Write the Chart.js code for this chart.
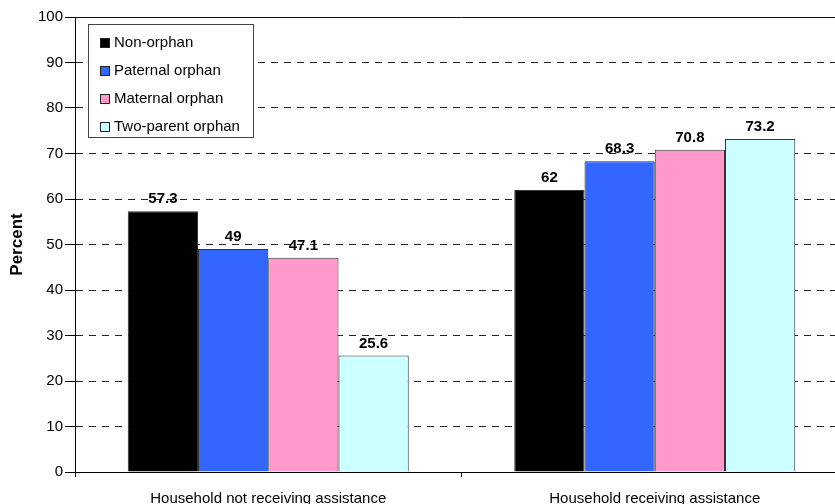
<!DOCTYPE html>
<html>
<head>
<meta charset="utf-8">
<script src="https://cdn.jsdelivr.net/npm/chart.js@4/dist/chart.umd.min.js"></script>
<style>
  html, body { margin: 0; padding: 0; background: #fff; overflow: hidden; }
  #wrap { position: absolute; left: 0; top: 0; }
</style>
</head>
<body>
<div id="wrap"><canvas id="bar-chart" width="870" height="520"></canvas></div>
<script>
const groups = ['Household not receiving assistance', 'Household receiving assistance'];
const seriesNames = ['Non-orphan', 'Paternal orphan', 'Maternal orphan', 'Two-parent orphan'];
const nonOrphan = [57.3, 62];
const paternalOrphan = [49, 68.3];
const maternalOrphan = [47.1, 70.8];
const twoParentOrphan = [25.6, 73.2];
const yTicks = [0, 10, 20, 30, 40, 50, 60, 70, 80, 90, 100];

const fills = ['#000000', '#3366ff', '#ff99cc', '#ccffff'];
const fontFamily = '"Liberation Sans", Arial, Helvetica, sans-serif';

// solid rule along the top of the plot
const topRule = {
  id: 'topRule',
  beforeDatasetsDraw(chart) {
    const ctx = chart.ctx;
    const y = Math.round(chart.scales.y.getPixelForValue(100)) + 0.5;
    ctx.save();
    ctx.strokeStyle = '#111';
    ctx.lineWidth = 1;
    ctx.beginPath();
    ctx.moveTo(chart.chartArea.left, y);
    ctx.lineTo(chart.chartArea.right, y);
    ctx.stroke();
    ctx.restore();
  }
};

// numbers printed over each bar
const valueLabels = {
  id: 'valueLabels',
  afterDatasetsDraw(chart) {
    const ctx = chart.ctx;
    ctx.save();
    ctx.font = 'bold 15px ' + fontFamily;
    ctx.fillStyle = '#000';
    ctx.textAlign = 'center';
    ctx.textBaseline = 'alphabetic';
    chart.data.datasets.forEach((ds, i) => {
      chart.getDatasetMeta(i).data.forEach((bar, j) => {
        ctx.fillText(String(ds.data[j]), bar.x, bar.y - 8);
      });
    });
    ctx.restore();
  }
};

// boxed legend sitting inside the plot, top left
const boxLegend = {
  id: 'boxLegend',
  afterDraw(chart) {
    const ctx = chart.ctx;
    const x = 88, y = 24, w = 165, h = 113;
    ctx.save();
    ctx.fillStyle = '#fff';
    ctx.fillRect(x, y, w, h);
    ctx.strokeStyle = '#444';
    ctx.lineWidth = 1;
    ctx.strokeRect(x + 0.5, y + 0.5, w, h);
    ctx.font = '15px ' + fontFamily;
    ctx.textBaseline = 'middle';
    chart.data.datasets.forEach((ds, i) => {
      const cy = 42 + i * 28;
      ctx.fillStyle = ds.backgroundColor;
      ctx.fillRect(100, cy - 4, 10, 10);
      ctx.strokeStyle = '#222';
      ctx.strokeRect(100.5, cy - 3.5, 9, 9);
      ctx.fillStyle = '#000';
      ctx.fillText(ds.label, 114, cy + 1);
    });
    ctx.restore();
  }
};

const datasetFor = (label, data, color) => ({
  label: label,
  data: data,
  backgroundColor: color,
  borderColor: '#333',
  borderWidth: 1,
  categoryPercentage: 0.727,
  barPercentage: 1
});

const ctx = document.getElementById('bar-chart').getContext('2d');
const barChart = new Chart(ctx, {
  type: 'bar',
  data: {
    labels: groups,
    datasets: [
      datasetFor(seriesNames[0], nonOrphan, fills[0]),
      datasetFor(seriesNames[1], paternalOrphan, fills[1]),
      datasetFor(seriesNames[2], maternalOrphan, fills[2]),
      datasetFor(seriesNames[3], twoParentOrphan, fills[3])
    ]
  },
  options: {
    responsive: false,
    animation: false,
    devicePixelRatio: 1,
    layout: { padding: { left: 0, top: 17, right: 22, bottom: 0 } },
    plugins: {
      legend: { display: false },
      tooltip: { enabled: false }
    },
    scales: {
      x: {
        afterFit: (s) => { s.height = 48; },
        grid: {
          display: true,
          drawOnChartArea: false,
          drawTicks: true,
          tickLength: 5,
          color: '#000',
          offset: true
        },
        border: { display: true, color: '#000', width: 1 },
        ticks: {
          color: '#000',
          padding: 13,
          maxRotation: 0,
          font: { family: fontFamily, size: 15 }
        }
      },
      y: {
        min: 0,
        max: 100,
        afterFit: (s) => { s.width = 75; },
        afterBuildTicks: (s) => { s.ticks = yTicks.map(v => ({ value: v })); },
        grid: {
          color: (c) => (c.tick && c.tick.value === 100) ? 'rgba(0,0,0,0)' : '#222',
          tickColor: '#000',
          tickLength: 10,
          lineWidth: 1
        },
        border: { display: true, color: '#000', width: 1, dash: [7, 6] },
        ticks: {
          color: '#000',
          padding: 2,
          font: { family: fontFamily, size: 15 }
        },
        title: {
          display: true,
          text: 'Percent',
          color: '#000',
          padding: { top: 7, bottom: 0 },
          font: { family: fontFamily, size: 17, weight: 'bold' }
        }
      }
    }
  },
  plugins: [topRule, valueLabels, boxLegend]
});
</script>
</body>
</html>
